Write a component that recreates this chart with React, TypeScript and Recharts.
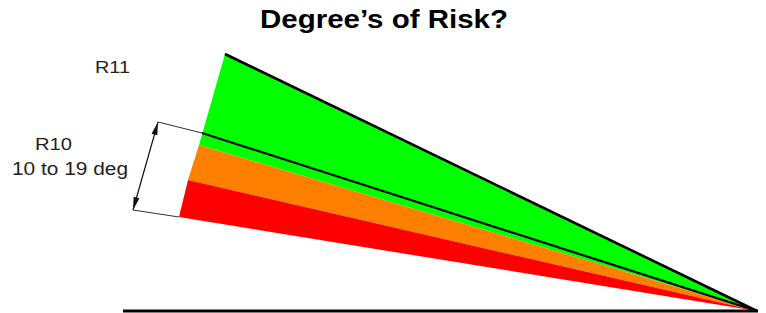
import React from 'react';
import { ComposedChart, XAxis, YAxis, ReferenceArea, ReferenceLine } from 'recharts';

// Diagram geometry (data units: a 766 x 313 drawing plane, y measured downward)
const apexX = 757;
const apexY = 311;
// Left edge of the fan, top to bottom: green top, green/orange, orange/red, red bottom
const fanEdgeX = [225, 199, 188, 179];
const fanEdgeY = [54, 145, 180, 217];
const bandNames = ['R11 (low risk)', 'R10 (medium risk)', 'R10 (high risk)'];
const bandColors = ['#00ff00', '#ff8000', '#ff0000'];
// Black rays from the fan edge to the apex
const rayStartX = [225, 202];
const rayStartY = [54, 133];
// Dimension arrow for "10 to 19 deg"
const dimX = [158, 133];
const dimY = [122, 210];
// Extension lines: from dimension ends to the fan
const extFromX = [158, 133];
const extFromY = [122, 210];
const extToX = [202, 179];
const extToY = [133, 217];
// Ground line
const groundStartX = 123;

const titleText = 'Degree’s of Risk?';
const labelR11 = 'R11';
const labelR10 = 'R10';
const labelRange = '10 to 19 deg';

type Pt = { x: number; y: number };

const makePolygonShape = (pts: Pt[], x1: number, x2: number, y1: number, y2: number) => (props: any) => {
  let { x, y, width, height } = props;
  if (width < 0) { x += width; width = -width; }
  if (height < 0) { y += height; height = -height; }
  const d = pts
    .map((p, i) => {
      const px = x + ((p.x - x1) / (x2 - x1)) * width;
      const py = y + ((p.y - y1) / (y2 - y1)) * height;
      return `${i === 0 ? 'M' : 'L'}${px},${py}`;
    })
    .join(' ') + ' Z';
  return <path d={d} fill={props.fill} stroke="none" />;
};

const makeArrowShape = (a: Pt, b: Pt, x1: number, x2: number, y1: number, y2: number) => (props: any) => {
  let { x, y, width, height } = props;
  if (width < 0) { x += width; width = -width; }
  if (height < 0) { y += height; height = -height; }
  const map = (p: Pt) => ({
    x: x + ((p.x - x1) / (x2 - x1)) * width,
    y: y + ((p.y - y1) / (y2 - y1)) * height,
  });
  const A = map(a);
  const B = map(b);
  const dx = B.x - A.x;
  const dy = B.y - A.y;
  const len = Math.sqrt(dx * dx + dy * dy);
  const ux = dx / len;
  const uy = dy / len;
  const nx = -uy;
  const ny = ux;
  const L = 13;
  const W = 3;
  const head = (tip: Pt, dir: number) => {
    const bx = tip.x + dir * ux * L;
    const by = tip.y + dir * uy * L;
    return `M${tip.x},${tip.y} L${bx + nx * W},${by + ny * W} L${bx - nx * W},${by - ny * W} Z`;
  };
  return (
    <g>
      <line x1={A.x} y1={A.y} x2={B.x} y2={B.y} stroke="#111" strokeWidth={1.2} />
      <path d={head(A, 1)} fill="#111" />
      <path d={head(B, -1)} fill="#111" />
    </g>
  );
};

export default function App() {
  const bands = bandColors.map((color, i) => {
    const pts: Pt[] = [
      { x: fanEdgeX[i], y: fanEdgeY[i] },
      { x: fanEdgeX[i + 1], y: fanEdgeY[i + 1] },
      { x: apexX, y: apexY },
    ];
    const xs = pts.map((p) => p.x);
    const ys = pts.map((p) => p.y);
    const x1 = Math.min(...xs);
    const x2 = Math.max(...xs);
    const y1 = Math.min(...ys);
    const y2 = Math.max(...ys);
    return { name: bandNames[i], color, pts, x1, x2, y1, y2 };
  });

  const dA = { x: dimX[0], y: dimY[0] };
  const dB = { x: dimX[1], y: dimY[1] };
  const dx1 = Math.min(dA.x, dB.x);
  const dx2 = Math.max(dA.x, dB.x);
  const dy1 = Math.min(dA.y, dB.y);
  const dy2 = Math.max(dA.y, dB.y);

  return (
    <div style={{ position: 'absolute', left: 0, top: 0, width: 766, height: 313, background: '#fff' }}>
      <ComposedChart width={766} height={313} margin={{ top: 0, right: 0, bottom: 0, left: 0 }} data={[]}>
        <XAxis type="number" dataKey="x" domain={[0, 766]} hide allowDataOverflow />
        <YAxis type="number" dataKey="y" domain={[0, 313]} reversed hide allowDataOverflow />
        {bands.map((b) => (
          <ReferenceArea
            key={b.name}
            x1={b.x1}
            x2={b.x2}
            y1={b.y1}
            y2={b.y2}
            fill={b.color}
            fillOpacity={1}
            ifOverflow="visible"
            shape={makePolygonShape(b.pts, b.x1, b.x2, b.y1, b.y2)}
          />
        ))}
        {rayStartX.map((sx, i) => (
          <ReferenceLine
            key={`ray-${i}`}
            segment={[{ x: sx, y: rayStartY[i] }, { x: apexX, y: apexY }]}
            stroke="#000"
            strokeWidth={i === 0 ? 2.6 : 2.2}
            ifOverflow="visible"
          />
        ))}
        {extFromX.map((fx, i) => (
          <ReferenceLine
            key={`ext-${i}`}
            segment={[{ x: fx, y: extFromY[i] }, { x: extToX[i], y: extToY[i] }]}
            stroke="#333"
            strokeWidth={1}
            ifOverflow="visible"
          />
        ))}
        <ReferenceArea
          x1={dx1}
          x2={dx2}
          y1={dy1}
          y2={dy2}
          ifOverflow="visible"
          shape={makeArrowShape(dA, dB, dx1, dx2, dy1, dy2)}
        />
        <ReferenceLine
          segment={[{ x: groundStartX, y: apexY }, { x: apexX + 1, y: apexY }]}
          stroke="#000"
          strokeWidth={3}
          ifOverflow="visible"
        />
        <text x={260} y={28} fontFamily="'Liberation Sans', Arial, sans-serif" fontWeight="bold" fontSize={25} fill="#000" textLength={248} lengthAdjust="spacingAndGlyphs">
          {titleText}
        </text>
        <text x={95} y={73} fontFamily="'Liberation Sans', Arial, sans-serif" fontSize={17} fill="#222" textLength={35} lengthAdjust="spacingAndGlyphs">
          {labelR11}
        </text>
        <text x={35} y={150} fontFamily="'Liberation Sans', Arial, sans-serif" fontSize={17} fill="#222" textLength={37} lengthAdjust="spacingAndGlyphs">
          {labelR10}
        </text>
        <text x={12} y={175} fontFamily="'Liberation Sans', Arial, sans-serif" fontSize={18} fill="#222" textLength={116} lengthAdjust="spacingAndGlyphs">
          {labelRange}
        </text>
      </ComposedChart>
    </div>
  );
}
